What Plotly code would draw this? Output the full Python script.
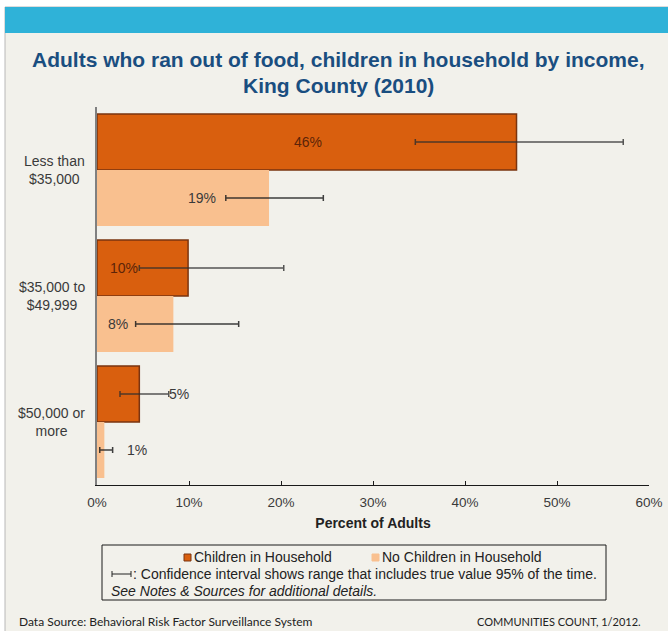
import plotly.graph_objects as go

# ---------------- data ----------------
categories = ["Less than $35,000", "$35,000 to $49,999", "$50,000 or more"]
category_labels = ["Less than<br>$35,000", "$35,000 to<br>$49,999", "$50,000 or<br>more"]

children = [45.6, 9.9, 4.6]
children_lo = [34.6, 4.6, 2.5]
children_hi = [57.2, 20.3, 7.8]
children_text = ["46%", "10%", "5%"]

no_children = [18.7, 8.3, 0.8]
no_children_lo = [14.0, 4.2, 0.3]
no_children_hi = [24.6, 15.4, 1.7]
no_children_text = ["19%", "8%", "1%"]

x_ticks = [0, 10, 20, 30, 40, 50, 60]

# label placement (x in data units, as in the original chart)
children_label_x = [22.9, 2.9, 8.9]
no_children_label_x = [11.4, 2.3, 4.3]

# ---------------- styles ----------------
W, H = 668, 631
L, R, T, B = 97, 19, 107, 146
PW, PH = W - L - R, H - T - B
FONT = "Liberation Sans, Arial, sans-serif"
DARK = "#D95F0E"
DARK_EDGE = "#7A3410"
LIGHT = "#F9C08F"
BEIGE = "#F2F1EB"
BLUE = "#2FB2D8"
TITLE_C = "#1A4E80"
TXT = "#3A3A3A"
BARGAP = 0.111


def px(xp):
    return (xp - L) / PW


def py(yp):
    return (H - B - yp) / PH


fig = go.Figure()

fig.add_trace(go.Bar(
    y=categories, x=children, orientation="h", name="Children in Household",
    marker=dict(color=DARK, line=dict(color=DARK_EDGE, width=1.5)),
    error_x=dict(type="data", symmetric=False,
                 array=[h - v for h, v in zip(children_hi, children)],
                 arrayminus=[v - l for v, l in zip(children, children_lo)],
                 color="rgba(45,45,45,0.8)", thickness=1.5, width=3),
    hoverinfo="skip",
))
fig.add_trace(go.Bar(
    y=categories, x=no_children, orientation="h", name="No Children in Household",
    marker=dict(color=LIGHT, line=dict(color=LIGHT, width=0)),
    error_x=dict(type="data", symmetric=False,
                 array=[h - v for h, v in zip(no_children_hi, no_children)],
                 arrayminus=[v - l for v, l in zip(no_children, no_children_lo)],
                 color="rgba(30,30,30,0.85)", thickness=1.5, width=3),
    hoverinfo="skip",
))

annotations = []
shapes = []

# background page
shapes.append(dict(type="rect", xref="paper", yref="paper", layer="below",
                   x0=px(5), x1=px(W + 2), y0=py(H + 2), y1=py(7),
                   fillcolor=BEIGE, line=dict(color="#B8B8B8", width=1)))
shapes.append(dict(type="rect", xref="paper", yref="paper", layer="below",
                   x0=px(5), x1=px(W + 2), y0=py(33), y1=py(7),
                   fillcolor=BLUE, line=dict(width=0)))

# title (two centered lines)
annotations.append(dict(x=px(338), y=py(60), xref="paper", yref="paper",
                        xanchor="center", yanchor="middle", showarrow=False,
                        text="<b>Adults who ran out of food, children in household by income,</b>",
                        font=dict(family=FONT, size=21, color=TITLE_C)))
annotations.append(dict(x=px(338), y=py(85), xref="paper", yref="paper",
                        xanchor="center", yanchor="middle", showarrow=False,
                        text="<b>King County (2010)</b>",
                        font=dict(family=FONT, size=21, color=TITLE_C)))

# data labels
half = (1 - BARGAP) / 4
for i in range(len(categories)):
    annotations.append(dict(x=children_label_x[i], y=i - half, xref="x", yref="y",
                            text=children_text[i], showarrow=False,
                            font=dict(family=FONT, size=14,
                                      color="#5C2408" if children_label_x[i] < children[i] else TXT)))
    annotations.append(dict(x=no_children_label_x[i], y=i + half, xref="x", yref="y",
                            text=no_children_text[i], showarrow=False,
                            font=dict(family=FONT, size=14, color=TXT)))
    # category labels (centered lines)
    annotations.append(dict(x=0, y=i, xref="paper", yref="y", xanchor="right",
                            xshift=-10, align="center", text=category_labels[i],
                            showarrow=False, font=dict(family=FONT, size=14, color=TXT)))

# legend box
shapes.append(dict(type="rect", xref="paper", yref="paper",
                   x0=px(102), x1=px(606), y0=py(600), y1=py(545),
                   line=dict(color="#1A1A1A", width=1), fillcolor="rgba(0,0,0,0)"))
shapes.append(dict(type="rect", xref="paper", yref="paper",
                   x0=px(184), x1=px(191), y0=py(561), y1=py(554),
                   fillcolor=DARK, line=dict(color=DARK_EDGE, width=1)))
shapes.append(dict(type="rect", xref="paper", yref="paper",
                   x0=px(372), x1=px(379), y0=py(561), y1=py(554),
                   fillcolor=LIGHT, line=dict(color=LIGHT, width=1)))
annotations.append(dict(x=px(192), y=py(557), xref="paper", yref="paper",
                        xanchor="left", yanchor="middle", showarrow=False,
                        text="Children in Household",
                        font=dict(family=FONT, size=14, color="#222")))
annotations.append(dict(x=px(380), y=py(557), xref="paper", yref="paper",
                        xanchor="left", yanchor="middle", showarrow=False,
                        text="No Children in Household",
                        font=dict(family=FONT, size=14, color="#222")))
# CI glyph
shapes.append(dict(type="line", xref="paper", yref="paper",
                   x0=px(112), x1=px(131), y0=py(574), y1=py(574),
                   line=dict(color="#222", width=1)))
for xx in (112, 131):
    shapes.append(dict(type="line", xref="paper", yref="paper",
                       x0=px(xx), x1=px(xx), y0=py(571), y1=py(577),
                       line=dict(color="#222", width=1)))
annotations.append(dict(x=px(131), y=py(574), xref="paper", yref="paper",
                        xanchor="left", yanchor="middle", showarrow=False,
                        text=": Confidence interval shows range that includes true value 95% of the time.",
                        font=dict(family=FONT, size=14, color="#222")))
annotations.append(dict(x=px(109), y=py(591), xref="paper", yref="paper",
                        xanchor="left", yanchor="middle", showarrow=False,
                        text="<i>See Notes &amp; Sources for additional details.</i>",
                        font=dict(family=FONT, size=14, color="#222")))

# footer
annotations.append(dict(x=px(17), y=py(621), xref="paper", yref="paper",
                        xanchor="left", yanchor="middle", showarrow=False,
                        text="Data Source: Behavioral Risk Factor Surveillance System",
                        font=dict(family="Lato, Open Sans, sans-serif", size=12, color="#222")))
annotations.append(dict(x=px(643), y=py(621), xref="paper", yref="paper",
                        xanchor="right", yanchor="middle", showarrow=False,
                        text="COMMUNITIES COUNT, 1/2012.",
                        font=dict(family="Lato, Open Sans, sans-serif", size=11, color="#222")))

fig.update_layout(
    width=W, height=H, autosize=False,
    margin=dict(l=L, r=R, t=T, b=B, pad=0, autoexpand=False),
    paper_bgcolor="white", plot_bgcolor="rgba(0,0,0,0)",
    barmode="group", bargap=BARGAP, bargroupgap=0,
    showlegend=False,
    xaxis=dict(range=[0, 60], tickvals=x_ticks, ticktext=[f"{v}%" for v in x_ticks],
               showgrid=False, zeroline=False, showline=True, linecolor="#1A1A1A", linewidth=1,
               ticks="inside", ticklen=4, tickcolor="#1A1A1A", automargin=False,
               ticklabelstandoff=5,
               tickfont=dict(family=FONT, size=13.5, color=TXT),
               title=dict(text="<b>Percent of Adults</b>", standoff=8,
                          font=dict(family=FONT, size=14, color="#222"))),
    yaxis=dict(type="category", categoryorder="array", categoryarray=categories,
               range=[2.5, -0.5], showgrid=False, zeroline=False, automargin=False,
               showline=True, linecolor="#808080", linewidth=1.5,
               showticklabels=False, ticks=""),
    annotations=annotations, shapes=shapes,
)

fig.write_html(
    "out.html",
    config={"displayModeBar": False},
    post_script="document.body.style.margin='0';document.body.style.overflow='hidden';",
)
